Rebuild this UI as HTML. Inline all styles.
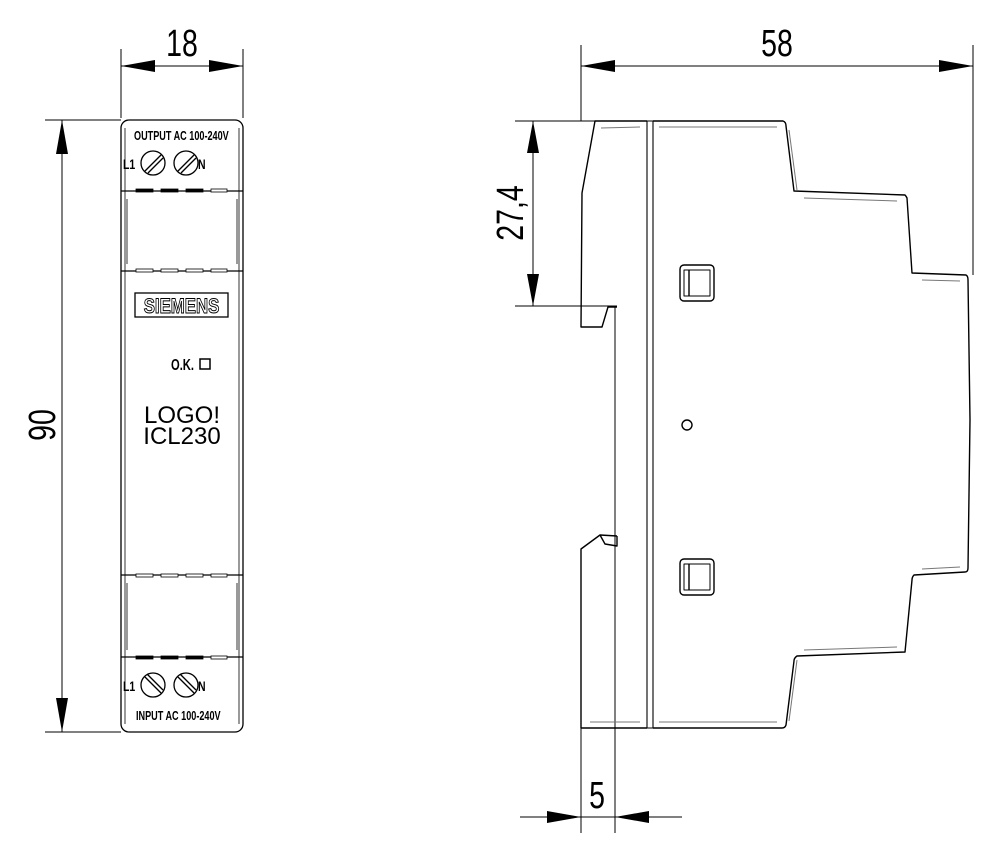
<!DOCTYPE html>
<html><head><meta charset="utf-8"><style>
html,body{margin:0;padding:0;background:#fff;width:1000px;height:857px;overflow:hidden}
text{font-family:"Liberation Sans",sans-serif}
</style></head><body>
<svg width="1000" height="857" viewBox="0 0 1000 857" xmlns="http://www.w3.org/2000/svg">
<g stroke="#000" fill="none" stroke-width="1">
<line x1="121" y1="49" x2="121" y2="118"/><line x1="243" y1="49" x2="243" y2="118"/>
<line x1="121" y1="66" x2="243" y2="66"/>
<line x1="45" y1="120" x2="121" y2="120"/><line x1="45" y1="732" x2="121" y2="732"/>
<line x1="62" y1="120" x2="62" y2="732"/>
<line x1="581" y1="45" x2="581" y2="121"/><line x1="973" y1="45" x2="973" y2="275"/>
<line x1="581" y1="66" x2="973" y2="66"/>
<line x1="515" y1="121" x2="595" y2="121"/><line x1="515" y1="306" x2="617" y2="306"/>
<line x1="533" y1="121" x2="533" y2="306"/>
<line x1="581" y1="728" x2="581" y2="833"/><line x1="615" y1="306" x2="615" y2="833"/>
<line x1="520" y1="817" x2="682" y2="817"/>
</g>
<g fill="#000">
<polygon points="121,66 155,60 155,72"/><polygon points="243,66 209,60 209,72"/>
<polygon points="62,120 56,154 68,154"/><polygon points="62,732 56,698 68,698"/>
<polygon points="581,66 615,60 615,72"/><polygon points="973,66 939,60 939,72"/>
<polygon points="533,121 527,153 539,153"/><polygon points="533,306 527,274 539,274"/>
<polygon points="581,817 547,811 547,823"/><polygon points="615,817 649,811 649,823"/>
</g>
<g font-size="38" fill="#000">
<text x="182" y="56" text-anchor="middle" transform="translate(182 56) scale(0.75 1) translate(-182 -56)">18</text>
<text x="777" y="56" text-anchor="middle" transform="translate(777 56) scale(0.75 1) translate(-777 -56)">58</text>
<text x="597" y="808" text-anchor="middle" transform="translate(597 808) scale(0.75 1) translate(-597 -808)">5</text>
<text transform="translate(55 425) rotate(-90) scale(0.75 1)" text-anchor="middle">90</text>
<text transform="translate(523 213) rotate(-90) scale(0.75 1)" text-anchor="middle">27,4</text>
</g>
<g stroke="#000" fill="none" stroke-width="1.3">
<rect x="121" y="120" width="122" height="612" rx="8"/>
<line x1="125" y1="128" x2="125" y2="724" stroke-width="0.8"/>
<line x1="239" y1="128" x2="239" y2="724" stroke-width="0.8"/>
<line x1="121" y1="191" x2="243" y2="191"/><line x1="121" y1="271" x2="243" y2="271"/>
<line x1="121" y1="575" x2="243" y2="575"/><line x1="121" y1="657" x2="243" y2="657"/>
<line x1="127" y1="199" x2="127" y2="264" stroke-width="0.8"/><line x1="237" y1="199" x2="237" y2="264" stroke-width="0.8"/>
<line x1="127" y1="583" x2="127" y2="650" stroke-width="0.8"/><line x1="237" y1="583" x2="237" y2="650" stroke-width="0.8"/>
<rect x="135" y="293" width="93" height="24"/>
<rect x="200" y="359" width="10" height="10" stroke-width="1.5"/>
<circle cx="153" cy="163" r="12"/><circle cx="186" cy="163" r="12"/>
<line x1="145" y1="171" x2="161" y2="155"/><line x1="148" y1="173" x2="163" y2="158"/>
<line x1="178" y1="171" x2="194" y2="155"/><line x1="181" y1="173" x2="196" y2="158"/>
<circle cx="153" cy="685" r="12"/><circle cx="186" cy="685" r="12"/>
<line x1="145" y1="677" x2="161" y2="693"/><line x1="147" y1="674" x2="163" y2="690"/>
<line x1="178" y1="677" x2="194" y2="693"/><line x1="180" y1="674" x2="196" y2="690"/>
</g>
<g fill="#000" stroke="#000" stroke-width="0.8">
<rect x="136" y="189" width="17" height="3"/><rect x="161" y="189" width="17" height="3"/><rect x="186" y="189" width="17" height="3"/><rect x="211" y="189" width="16" height="3" fill="#fff"/>
<rect x="136" y="269" width="17" height="3" fill="#fff"/><rect x="161" y="269" width="17" height="3" fill="#fff"/><rect x="186" y="269" width="17" height="3" fill="#fff"/><rect x="211" y="269" width="16" height="3" fill="#fff"/>
<rect x="136" y="574" width="17" height="3" fill="#fff"/><rect x="161" y="574" width="17" height="3" fill="#fff"/><rect x="186" y="574" width="17" height="3" fill="#fff"/><rect x="211" y="574" width="16" height="3" fill="#fff"/>
<rect x="136" y="656" width="17" height="3"/><rect x="161" y="656" width="17" height="3"/><rect x="186" y="656" width="17" height="3"/><rect x="211" y="656" width="16" height="3" fill="#fff"/>
</g>
<g fill="#000" font-weight="bold">
<text font-size="13" transform="translate(134 140) scale(0.7 1)">OUTPUT AC 100-240V</text>
<text font-size="13" transform="translate(136 720) scale(0.7 1)">INPUT AC 100-240V</text>
<text font-size="14" transform="translate(123 169) scale(0.75 1)">L1</text>
<text font-size="14" transform="translate(198 169) scale(0.75 1)">N</text>
<text font-size="14" transform="translate(123 691) scale(0.75 1)">L1</text>
<text font-size="14" transform="translate(198 691) scale(0.75 1)">N</text>
<text font-size="16" transform="translate(171 370) scale(0.7 1)">O.K.</text>
</g>
<text font-size="21" x="181.5" y="313" text-anchor="middle" fill="#fff" stroke="#000" stroke-width="1" font-weight="bold" transform="translate(181.5 313) scale(0.8 1) translate(-181.5 -313)">SIEMENS</text>
<text font-size="24" x="182" y="423" text-anchor="middle" fill="#000">LOGO!</text>
<text font-size="24" x="182" y="444" text-anchor="middle" fill="#000">ICL230</text>
<g stroke="#000" fill="none" stroke-width="1.4" stroke-linejoin="round">
<path d="M647,121 L595,121 L582,193 L581,327 L602,327 L608,307 L617,307"/>
<path d="M617,536 L600,535 L581,549 L581,728 L647,728"/>
<path d="M600,535 L605,544 L617,546 L617,536"/>
<rect x="647" y="121" width="6" height="607" stroke-width="1.1"/>
<path d="M653,121 L783,121 Q786,122 786,126 L794,191 L905,195 Q906,196 907,198 L912,273 L966,275 Q968,276 968,280 L970,420 L968,568 Q968,572 965,572 L914,575 Q912,577 912,580 L905,652 L797,656 Q794,658 794,661 L786,725 Q785,728 782,728 L653,728"/>
<rect x="680" y="265" width="34" height="36" rx="4"/>
<rect x="684" y="270" width="26" height="26" stroke-width="1"/><line x1="689" y1="270" x2="689" y2="296"/>
<rect x="680" y="559" width="34" height="36" rx="4"/>
<rect x="684" y="564" width="26" height="26" stroke-width="1"/><line x1="689" y1="564" x2="689" y2="590"/>
<circle cx="687" cy="425" r="5"/>
</g>
<g stroke="#777" stroke-width="1" fill="none">
<line x1="601" y1="128" x2="640" y2="127"/><line x1="659" y1="127" x2="777" y2="127"/>
<line x1="804" y1="198" x2="897" y2="201"/><line x1="922" y1="280" x2="960" y2="281"/>
<line x1="922" y1="569" x2="960" y2="567"/><line x1="804" y1="650" x2="897" y2="647"/>
<line x1="590" y1="722" x2="640" y2="722"/><line x1="659" y1="722" x2="777" y2="722"/>
<line x1="789" y1="130" x2="797" y2="190"/><line x1="789" y1="721" x2="797" y2="660"/>
</g>
</svg>
</body></html>
